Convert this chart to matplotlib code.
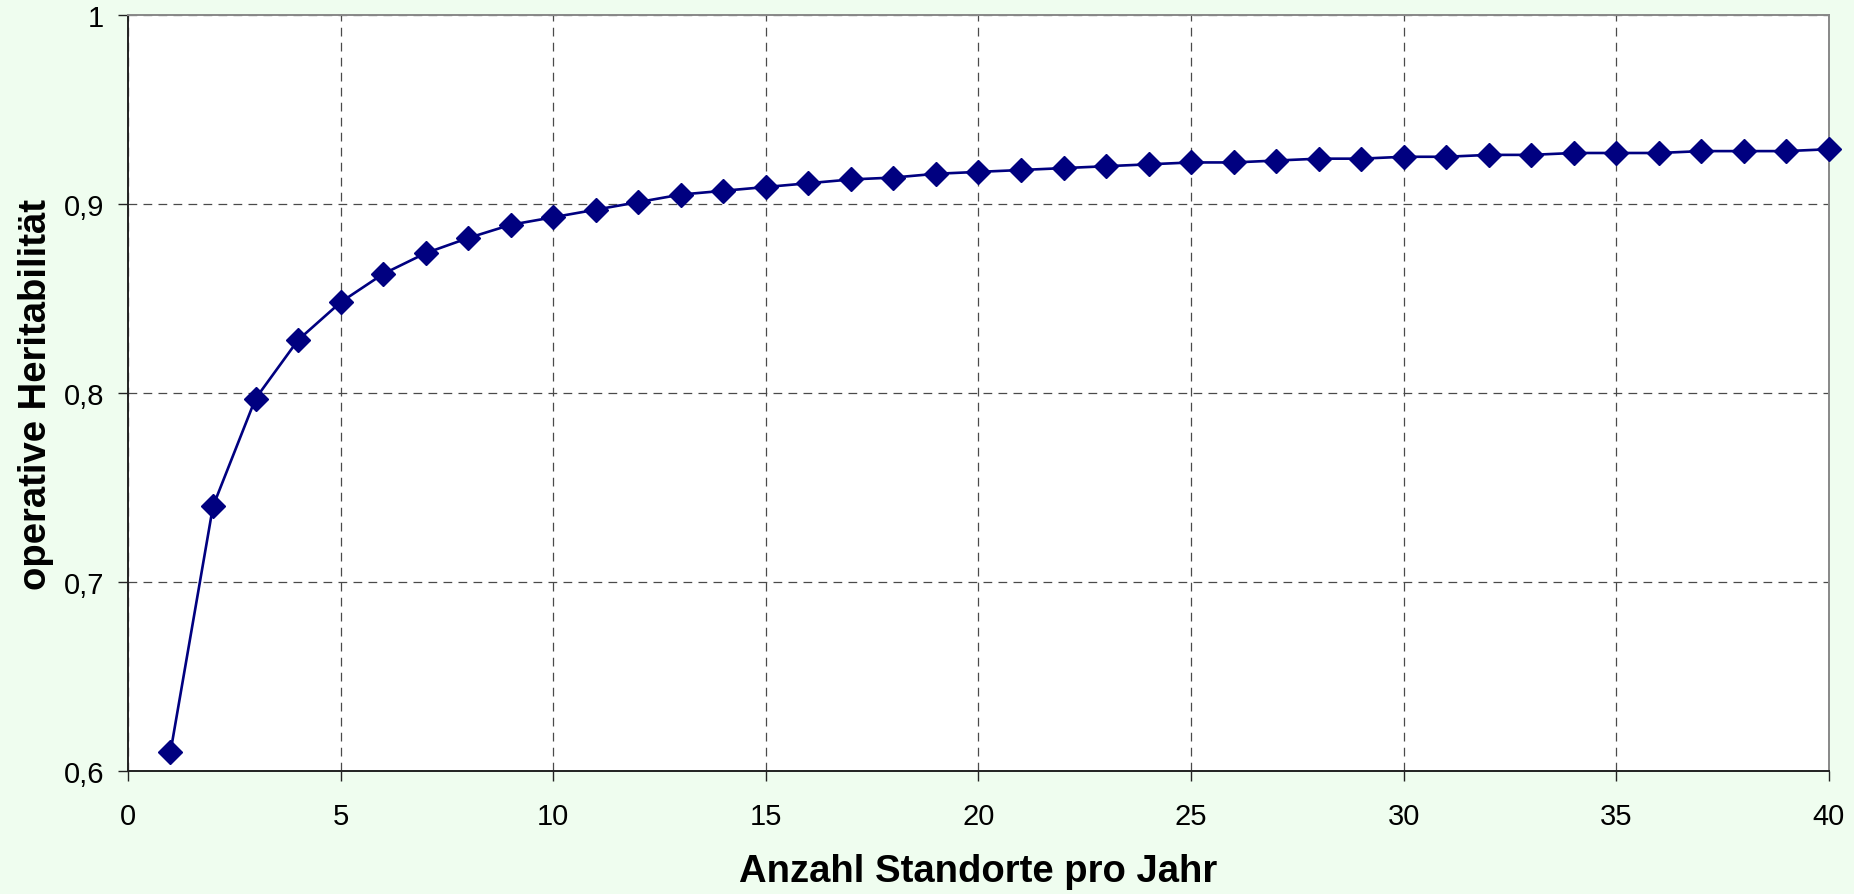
import numpy as np
import matplotlib.pyplot as plt

standorte = list(range(1, 41))
heritabilitaet = [0.610, 0.740, 0.797, 0.828, 0.848, 0.863, 0.874, 0.882, 0.889, 0.893,
                  0.897, 0.901, 0.905, 0.907, 0.909, 0.911, 0.913, 0.914, 0.916, 0.917,
                  0.918, 0.919, 0.920, 0.921, 0.922, 0.922, 0.923, 0.924, 0.924, 0.925,
                  0.925, 0.926, 0.926, 0.927, 0.927, 0.927, 0.928, 0.928, 0.928, 0.929]

x_ticks = [0, 5, 10, 15, 20, 25, 30, 35, 40]
y_ticks = [0.6, 0.7, 0.8, 0.9, 1.0]
y_ticklabels = ['0,6', '0,7', '0,8', '0,9', '1']

bg = '#EFFDEF'
navy = '#000080'
font = ['Liberation Sans', 'DejaVu Sans']

fig = plt.figure(figsize=(18.54, 8.95), dpi=100, facecolor=bg)
ax = fig.add_axes([0.069, 0.1374, 0.9175, 0.8447])
ax.set_facecolor('white')

ax.plot(standorte, heritabilitaet, color=navy, linewidth=1.9,
        marker='D', markersize=12.5, markerfacecolor=navy, markeredgecolor=navy,
        clip_on=False, zorder=3)

ax.set_xlim(0, 40)
ax.set_ylim(0.6, 1.0)
ax.set_xticks(x_ticks)
ax.set_yticks(y_ticks)
ax.set_yticklabels(y_ticklabels)

ax.grid(True, color='#4a4a4a', linestyle=(0, (7, 5)), linewidth=0.9)
ax.set_axisbelow(True)

for side in ['top', 'right']:
    ax.spines[side].set_color('#888888')
    ax.spines[side].set_linewidth(1.4)
for side in ['left', 'bottom']:
    ax.spines[side].set_color('#222222')
    ax.spines[side].set_linewidth(1.4)

ax.tick_params(axis='both', direction='out', length=7, width=1, color='#222222',
               labelsize=21)
ax.tick_params(axis='x', pad=15)
ax.tick_params(axis='y', pad=10)
for lbl in ax.get_xticklabels() + ax.get_yticklabels():
    lbl.set_family(font)

ax.set_xlabel('Anzahl Standorte pro Jahr', fontsize=27.5, fontweight='bold',
              family=font, labelpad=17)
ax.set_ylabel('operative Heritabilität', fontsize=27.5, fontweight='bold',
              family=font, labelpad=7)

fig.savefig('out.png', dpi=100, facecolor=bg)
